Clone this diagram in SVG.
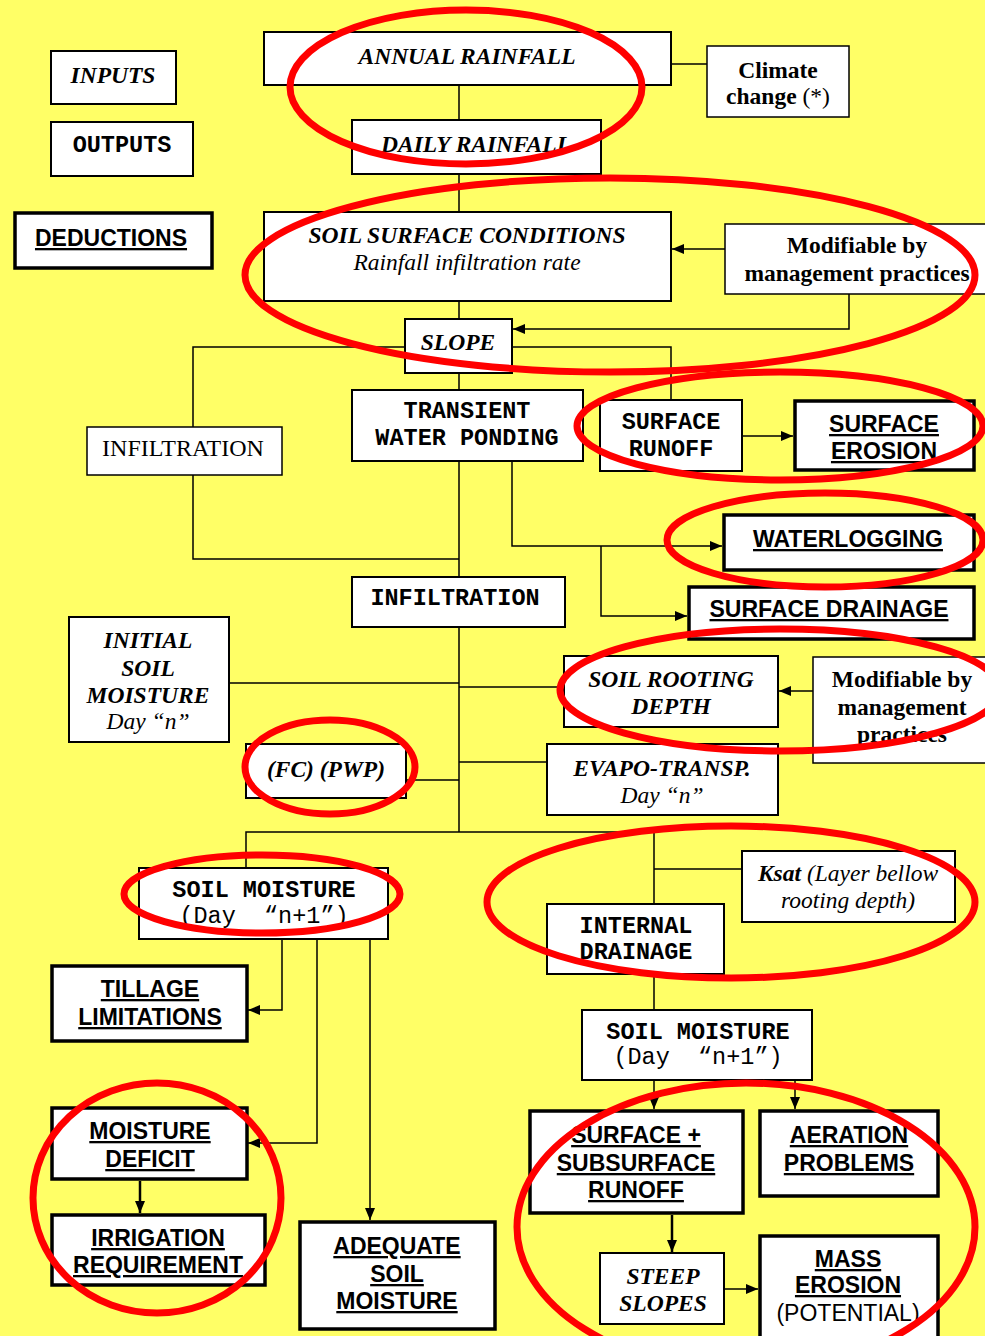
<svg xmlns="http://www.w3.org/2000/svg" width="985" height="1336" viewBox="0 0 985 1336">
<style>
.bx{fill:#fff;stroke:#000;stroke-width:2}
.thin{stroke-width:1.5}
.thick{stroke-width:3.5}
.ser{font-family:"Liberation Serif","Times New Roman",serif;font-size:23.5px;text-anchor:middle;fill:#000}
.bi{font-style:italic;font-weight:bold}
.it{font-style:italic}
.b{font-weight:bold}
.mono{font-family:"Liberation Mono","Courier New",monospace;font-size:23.5px;text-anchor:middle;fill:#000}
.ded{font-family:"Liberation Sans",Arial,sans-serif;font-size:23px;font-weight:bold;text-anchor:middle;text-decoration:underline;fill:#000}
.ln{fill:none;stroke:#000;stroke-width:1.5}
.ar{fill:none;stroke:#000;stroke-width:1.5;marker-end:url(#ah)}
.ar2{fill:none;stroke:#000;stroke-width:2.5;marker-end:url(#ah)}
.red{fill:none;stroke:#ff0000;stroke-width:7}
</style>
<defs>
<marker id="ah" markerUnits="userSpaceOnUse" markerWidth="12" markerHeight="12" viewBox="0 0 12 12" refX="12" refY="6" orient="auto">
<path d="M0,1 L12,6 L0,11 Z" fill="#000"/>
</marker>
</defs>
<rect x="0" y="0" width="985" height="1336" fill="#ffff66"/>

<g id="connectors">
<path class="ln" d="M459,85 V120 M459,174 V212 M459,301 V319 M459,373 V390 M459,461 V577 M459,627 V832"/>
<path class="ln" d="M671,64 H707"/>
<path class="ar" d="M725,249 H672"/>
<path class="ar" d="M849,294 V329 H513"/>
<path class="ln" d="M405,347 H193 V427 M193,475 V559 H459"/>
<path class="ln" d="M512,347 H671 V400"/>
<path class="ar" d="M742,436 H793"/>
<path class="ar" d="M512,461 V546 H722"/>
<path class="ar" d="M601,546 V616 H687"/>
<path class="ln" d="M229,683 H459 M459,687 H564 M406,780 H459 M459,762 H547"/>
<path class="ar" d="M813,691 H779"/>
<path class="ln" d="M246,868 V832 H654 V904 M654,869 H742 M654,974 V1010"/>
<path class="ar" d="M654,1080 V1109"/>
<path class="ar" d="M795,1080 V1109"/>
<path class="ar2" d="M672,1215 V1252"/>
<path class="ar" d="M724,1289 H758"/>
<path class="ar" d="M282,939 V1010 H248"/>
<path class="ar" d="M317,939 V1143 H248"/>
<path class="ar" d="M370,939 V1220"/>
<path class="ar2" d="M140,1181 V1213"/>
</g>

<g id="inputs"><rect class="bx" x="51" y="51" width="125" height="53"/><text class="ser bi" x="113" y="83">INPUTS</text></g>
<g id="outputs"><rect class="bx" x="51" y="122" width="142" height="54"/><text class="mono b" x="122" y="152">OUTPUTS</text></g>
<g id="deductions"><rect class="bx thick" x="15" y="213" width="197" height="55"/><text class="ded" x="111" y="246">DEDUCTIONS</text></g>

<g id="annual-rainfall"><rect class="bx" x="264" y="32" width="407" height="53"/><text class="ser bi" x="467" y="64">ANNUAL RAINFALL</text></g>
<g id="climate-change"><rect class="bx thin" x="707" y="46" width="142" height="71"/><text class="ser b" x="778" y="78">Climate</text><text class="ser" x="778" y="104"><tspan class="b">change</tspan> (*)</text></g>
<g id="daily-rainfall"><rect class="bx" x="352" y="120" width="249" height="54"/><text class="ser bi" x="476" y="152">DAILY RAINFALL</text></g>
<g id="soil-surface"><rect class="bx" x="264" y="212" width="407" height="89"/><text class="ser bi" x="467" y="243">SOIL SURFACE CONDITIONS</text><text class="ser it" x="467" y="270">Rainfall infiltration rate</text></g>
<g id="modifiable-1"><rect class="bx thin" x="725" y="224" width="270" height="70"/><text class="ser b" x="857" y="253">Modifiable by</text><text class="ser b" x="857" y="281">management practices</text></g>
<g id="slope"><rect class="bx" x="405" y="319" width="107" height="54"/><text class="ser bi" x="458" y="350">SLOPE</text></g>
<g id="transient-ponding"><rect class="bx" x="352" y="390" width="231" height="71"/><text class="mono b" x="467" y="418">TRANSIENT</text><text class="mono b" x="467" y="445">WATER PONDING</text></g>
<g id="infiltration-left"><rect class="bx thin" x="87" y="427" width="195" height="48"/><text class="ser" x="183" y="456" style="font-size:24px">INFILTRATION</text></g>
<g id="surface-runoff"><rect class="bx" x="600" y="400" width="142" height="71"/><text class="mono b" x="671" y="429">SURFACE</text><text class="mono b" x="671" y="456">RUNOFF</text></g>
<g id="surface-erosion"><rect class="bx thick" x="795" y="401" width="179" height="69"/><text class="ded" x="884" y="432">SURFACE</text><text class="ded" x="884" y="459">EROSION</text></g>
<g id="waterlogging"><rect class="bx thick" x="724" y="515" width="250" height="55"/><text class="ded" x="848" y="547">WATERLOGGING</text></g>
<g id="surface-drainage"><rect class="bx thick" x="689" y="587" width="285" height="52"/><text class="ded" x="829" y="617">SURFACE DRAINAGE</text></g>
<g id="infiltration-center"><rect class="bx" x="352" y="577" width="213" height="50"/><text class="mono b" x="455" y="605">INFILTRATION</text></g>
<g id="initial-soil-moisture"><rect class="bx" x="69" y="617" width="160" height="125"/><text class="ser bi" x="148" y="648">INITIAL</text><text class="ser bi" x="148" y="676">SOIL</text><text class="ser bi" x="148" y="703">MOISTURE</text><text class="ser it" x="148" y="729">Day  “n”</text></g>
<g id="soil-rooting-depth"><rect class="bx" x="564" y="656" width="214" height="71"/><text class="ser bi" x="671" y="687">SOIL ROOTING</text><text class="ser bi" x="671" y="714">DEPTH</text></g>
<g id="modifiable-2"><rect class="bx thin" x="813" y="657" width="182" height="106"/><text class="ser b" x="902" y="687">Modifiable by</text><text class="ser b" x="902" y="715">management</text><text class="ser b" x="902" y="742">practices</text></g>
<g id="fc-pwp"><rect class="bx" x="246" y="744" width="160" height="54"/><text class="ser bi" x="326" y="777">(FC) (PWP)</text></g>
<g id="evapo-transp"><rect class="bx" x="547" y="744" width="231" height="71"/><text class="ser bi" x="662" y="776">EVAPO-TRANSP.</text><text class="ser it" x="662" y="803">Day  “n”</text></g>
<g id="soil-moisture-left"><rect class="bx" x="139" y="868" width="249" height="71"/><text class="mono b" x="264" y="897">SOIL MOISTURE</text><text class="mono" x="264" y="923" xml:space="preserve">(Day  “n+1”)</text></g>
<g id="ksat"><rect class="bx" x="742" y="851" width="213" height="71"/><text class="ser it" x="848" y="881"><tspan class="b">Ksat</tspan> (Layer bellow</text><text class="ser it" x="848" y="908">rooting depth)</text></g>
<g id="internal-drainage"><rect class="bx" x="547" y="904" width="177" height="70"/><text class="mono b" x="636" y="933">INTERNAL</text><text class="mono b" x="636" y="959">DRAINAGE</text></g>
<g id="tillage"><rect class="bx thick" x="52" y="966" width="195" height="75"/><text class="ded" x="150" y="997">TILLAGE</text><text class="ded" x="150" y="1025">LIMITATIONS</text></g>
<g id="soil-moisture-right"><rect class="bx" x="582" y="1010" width="230" height="70"/><text class="mono b" x="698" y="1039">SOIL MOISTURE</text><text class="mono" x="698" y="1064" xml:space="preserve">(Day  “n+1”)</text></g>
<g id="moisture-deficit"><rect class="bx thick" x="52" y="1108" width="195" height="71"/><text class="ded" x="150" y="1139">MOISTURE</text><text class="ded" x="150" y="1167">DEFICIT</text></g>
<g id="irrigation"><rect class="bx thick" x="52" y="1215" width="213" height="70"/><text class="ded" x="158" y="1246">IRRIGATION</text><text class="ded" x="158" y="1273">REQUIREMENT</text></g>
<g id="adequate"><rect class="bx thick" x="300" y="1222" width="195" height="107"/><text class="ded" x="397" y="1254">ADEQUATE</text><text class="ded" x="397" y="1282">SOIL</text><text class="ded" x="397" y="1309">MOISTURE</text></g>
<g id="surface-subsurface"><rect class="bx thick" x="530" y="1111" width="213" height="102"/><text class="ded" x="636" y="1143">SURFACE +</text><text class="ded" x="636" y="1171">SUBSURFACE</text><text class="ded" x="636" y="1198">RUNOFF</text></g>
<g id="aeration"><rect class="bx thick" x="760" y="1111" width="178" height="85"/><text class="ded" x="849" y="1143">AERATION</text><text class="ded" x="849" y="1171">PROBLEMS</text></g>
<g id="steep-slopes"><rect class="bx" x="600" y="1253" width="124" height="71"/><text class="ser bi" x="663" y="1284">STEEP</text><text class="ser bi" x="663" y="1311">SLOPES</text></g>
<g id="mass-erosion"><rect class="bx thick" x="760" y="1236" width="178" height="110"/><text class="ded" x="848" y="1267">MASS</text><text class="ded" x="848" y="1293">EROSION</text><text class="ded" x="848" y="1321" style="font-weight:normal;text-decoration:none">(POTENTIAL)</text></g>

<g id="highlights">
<ellipse class="red" cx="466" cy="87" rx="176" ry="77"/>
<ellipse class="red" cx="610" cy="275" rx="365" ry="97"/>
<ellipse class="red" cx="780" cy="426" rx="203" ry="54"/>
<ellipse class="red" cx="825" cy="540" rx="158" ry="47"/>
<ellipse class="red" cx="780" cy="690" rx="220" ry="61"/>
<ellipse class="red" cx="330" cy="767" rx="85" ry="47"/>
<ellipse class="red" cx="262" cy="894" rx="138" ry="39"/>
<ellipse class="red" cx="731" cy="902" rx="244" ry="76"/>
<ellipse class="red" cx="157" cy="1198" rx="124" ry="115"/>
<ellipse class="red" cx="746" cy="1227" rx="229" ry="144"/>
</g>
</svg>
